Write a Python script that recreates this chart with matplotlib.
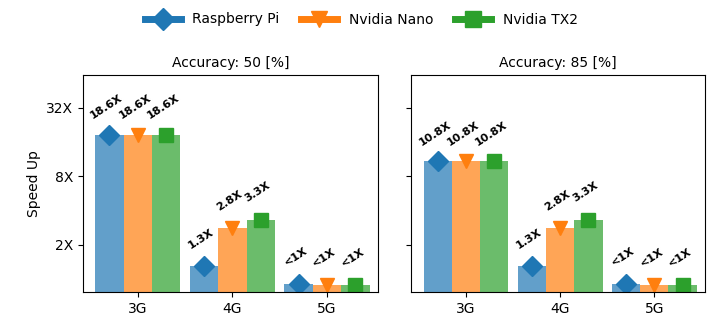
import numpy as np
import matplotlib.pyplot as plt
from matplotlib.lines import Line2D

# data
networks = ["3G", "4G", "5G"]
devices = ["Raspberry Pi", "Nvidia Nano", "Nvidia TX2"]
speedup_50 = {
    "Raspberry Pi": [18.6, 1.3, 0.9],
    "Nvidia Nano": [18.6, 2.8, 0.88],
    "Nvidia TX2": [18.6, 3.3, 0.88],
}
speedup_85 = {
    "Raspberry Pi": [10.8, 1.3, 0.9],
    "Nvidia Nano": [10.8, 2.8, 0.88],
    "Nvidia TX2": [10.8, 3.3, 0.88],
}
accuracies = [50, 85]
colors = ["#1f77b4", "#ff7f0e", "#2ca02c"]
markers = ["D", "v", "s"]


def label_of(v):
    if v < 1:
        return "<1X"
    return "{}X".format(v)


fig = plt.figure(figsize=(7.08, 3.26), dpi=100)
ax1 = fig.add_axes([0.117, 0.104, 0.417, 0.666])
ax2 = fig.add_axes([0.581, 0.104, 0.415, 0.666], sharey=ax1)

x = np.arange(len(networks))
w = 0.3
for ax, acc, data in [(ax1, accuracies[0], speedup_50), (ax2, accuracies[1], speedup_85)]:
    for i, dev in enumerate(devices):
        xs = x + (i - 1) * w
        vals = data[dev]
        ax.bar(xs, vals, width=w, color=colors[i], alpha=0.7)
        ax.plot(xs, vals, linestyle="none", marker=markers[i], color=colors[i], markersize=10)
        for xi, v in zip(xs, vals):
            ax.annotate(label_of(v), (xi, v), xytext=(-2, 20), textcoords="offset points",
                        ha="center", va="center", rotation=33, fontsize=8, fontweight="bold")
    ax.set_yscale("log", base=2)
    ax.set_ylim(0.77, 62)
    ax.set_xlim(-0.58, 2.54)
    ax.set_xticks(x)
    ax.set_xticklabels(networks, fontsize=10)
    ax.set_title("Accuracy: {} [%]".format(acc), fontsize=10)
    ax.minorticks_off()

ax1.set_yticks([2, 8, 32])
ax1.set_yticklabels(["2X", "8X", "32X"], fontsize=10)
ax1.set_ylabel("Speed Up", fontsize=10)
ax2.tick_params(labelleft=False)

handles = [Line2D([0], [0], color=colors[i], marker=markers[i], lw=5, markersize=11) for i in range(3)]
fig.legend(handles, devices, loc="upper center", bbox_to_anchor=(0.51, 1.0), ncol=3,
           frameon=False, fontsize=10, handlelength=2.6, columnspacing=1.6)

fig.savefig("out.png", dpi=100)
